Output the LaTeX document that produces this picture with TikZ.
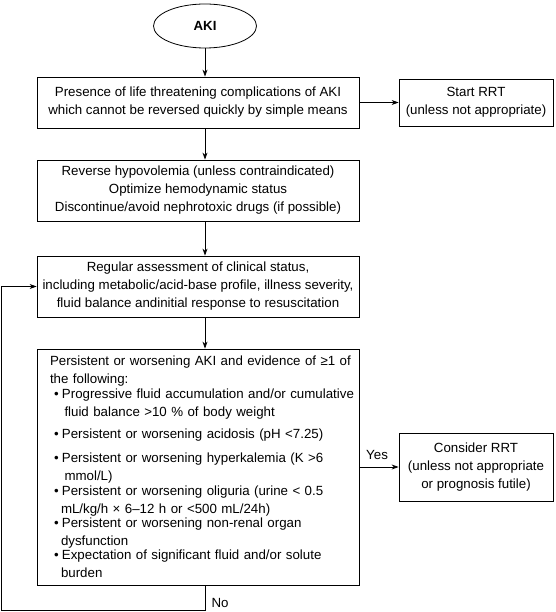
\documentclass[tikz,border=0pt]{standalone}
\usepackage{fontspec}
\setmainfont{Liberation Sans}
\usetikzlibrary{shapes.geometric,arrows.meta}
\newcommand{\Lline}[2][0pt]{\hspace*{#1}\rlap{#2}}
\newcommand{\Bline}[1]{\hspace*{4pt}\rlap{•\hspace{3.3pt}#1}}
\begin{document}
\begin{tikzpicture}[x=1pt,y=-1pt,
  font=\fontsize{13.3}{18}\selectfont,
  line width=0.8pt,
  box/.style={draw, align=center, inner sep=0pt, minimum width=322pt},
  sidebox/.style={draw, align=center, inner sep=0pt, minimum width=154pt},
  arr/.style={-{Stealth[length=7pt,width=5pt]}},
  lbl/.style={inner sep=0pt}]
\useasboundingbox (0,0) rectangle (555,612);
\node[draw, ellipse, minimum width=103pt, minimum height=44pt, inner sep=0pt, font=\fontsize{13.3}{18}\selectfont\bfseries] (aki) at (205,26) {AKI};
\node[box, minimum height=51pt] (b1) at (198,102.5) {Presence of life threatening complications of AKI\\which cannot be reversed quickly by simple means};
\node[sidebox, minimum height=47pt] (start) at (476,102.5) {Start RRT\\(unless not appropriate)};
\node[box, minimum height=61pt] (b2) at (198,190.5) {Reverse hypovolemia (unless contraindicated)\\Optimize hemodynamic status\\Discontinue/avoid nephrotoxic drugs (if possible)};
\node[box, minimum height=61pt] (b3) at (198,286.5) {Regular assessment of clinical status,\\including metabolic/acid-base profile, illness severity,\\fluid balance andinitial response to resuscitation};
\node[box, minimum height=236pt, text width=296pt, align=left] (b4) at (198,467) {\Lline{Persistent or worsening AKI and evidence of ≥1 of}\\
\Lline{the following:}\\[-3pt]
\Bline{Progressive fluid accumulation and/or cumulative}\\
\Lline[14.5pt]{fluid balance >10 \% of body weight}\\[4pt]
\Bline{Persistent or worsening acidosis (pH <7.25)}\\[6pt]
\Bline{Persistent or worsening hyperkalemia (K >6}\\
\Lline[14.5pt]{mmol/L)}\\[-3pt]
\Bline{Persistent or worsening oliguria (urine < 0.5}\\
\Lline[11pt]{mL/kg/h × 6–12 h or <500 mL/24h)}\\[-4pt]
\Bline{Persistent or worsening non-renal organ}\\
\Lline[11pt]{dysfunction}\\[-4pt]
\Bline{Expectation of significant fluid and/or solute}\\
\Lline[11pt]{burden}};
\node[sidebox, minimum height=68pt] (cons) at (476,467) {Consider RRT\\(unless not appropriate\\or prognosis futile)};
\coordinate (fb) at (1.5,610.5);
\draw[arr] (aki.south) -- (b1.north -| aki.south);
\draw[arr] (b1.east) -- (start.west);
\draw[arr] (b1.south -| aki.south) -- (b2.north -| aki.south);
\draw[arr] (b2.south -| aki.south) -- (b3.north -| aki.south);
\draw[arr] (b3.south -| aki.south) -- (b4.north -| aki.south);
\draw[arr] (b4.east) -- (cons.west) node[lbl, pos=0.45, above=7pt] {Yes};
\draw[arr] (b4.south -| aki.south) |- (fb) |- (b3.west);
\node[lbl] (no) at (220,603) {No};
\end{tikzpicture}
\end{document}
